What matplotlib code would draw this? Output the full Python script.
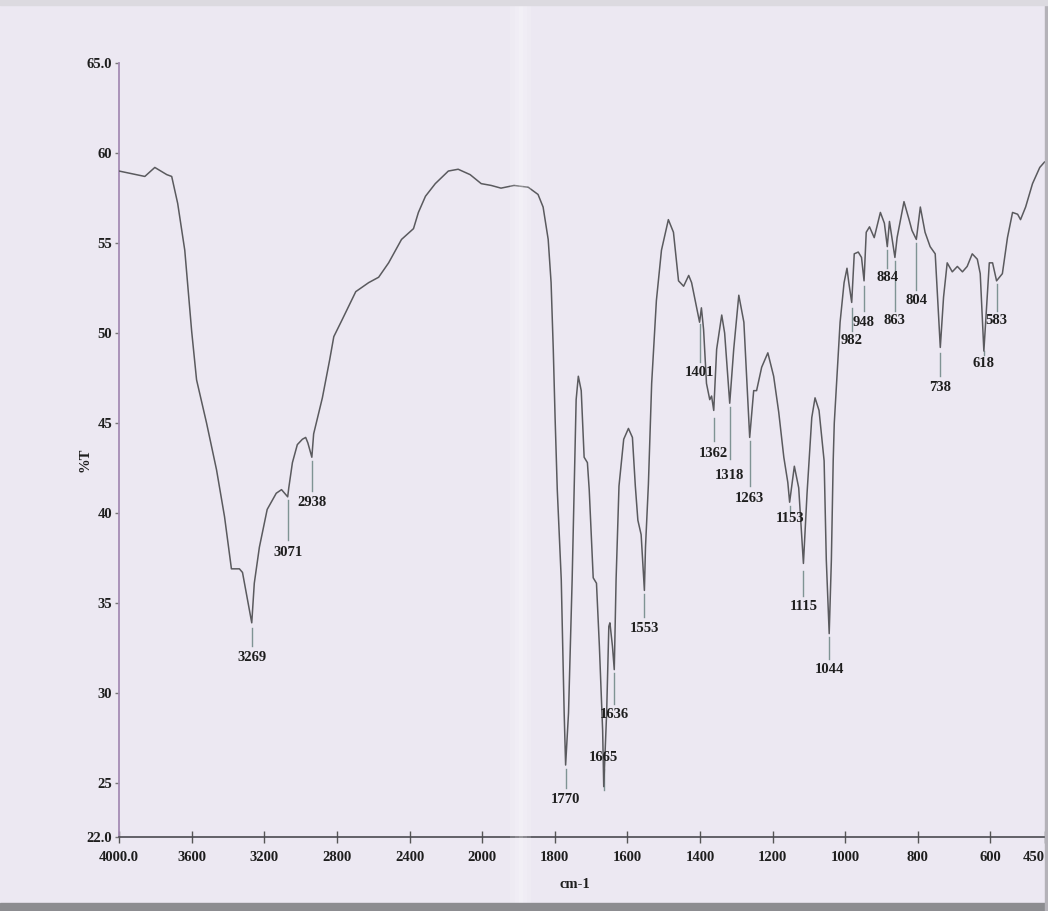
import numpy as np
import matplotlib.pyplot as plt
from matplotlib.patches import Rectangle

# IR spectrum: wavenumber (cm-1) and transmittance (%T)
wavenumber = [
    4000, 3858, 3803, 3737, 3710, 3677, 3638, 3600, 3573, 3518, 3463, 3419,
    3381, 3337, 3320, 3269, 3255, 3227, 3184, 3134, 3105, 3071, 3065, 3045,
    3018, 2990, 2972, 2960, 2938, 2928, 2880, 2840, 2817, 2773, 2696, 2625,
    2570, 2515, 2444, 2378, 2351, 2312, 2258, 2186, 2132, 2066, 2005,
    1975, 1948, 1912, 1873, 1846, 1832, 1818, 1810, 1804, 1799, 1793, 1782,
    1774, 1770, 1762, 1752, 1746, 1741, 1735, 1727, 1719, 1710, 1705, 1694,
    1685, 1677, 1668, 1665, 1657, 1651, 1648, 1641, 1636, 1631, 1623, 1610,
    1597, 1586, 1578, 1571, 1562, 1553, 1550, 1542, 1533, 1520, 1506, 1487,
    1473, 1459, 1445, 1431, 1423, 1413, 1401, 1396, 1390, 1382, 1373, 1368,
    1362, 1354, 1340, 1332, 1318, 1307, 1293, 1279, 1263, 1252, 1244, 1230,
    1213, 1197, 1183, 1169, 1158, 1153, 1140, 1128, 1115, 1105, 1092, 1083,
    1072, 1058, 1052, 1044, 1038, 1033, 1030, 1014, 1003, 995, 990, 982,
    975, 964, 955, 948, 942, 933, 920, 903, 892, 884, 878, 863, 857, 838,
    824, 816, 804, 793, 780, 766, 752, 738, 729, 719, 705, 691, 677, 664,
    650, 636, 628, 618, 603, 594, 583, 567, 553, 539, 525, 517, 503, 484,
    464, 451,
]
transmittance = [
    59.0, 58.7, 59.2, 58.8, 58.7, 57.2, 54.6, 50.1, 47.4, 45.0, 42.4, 39.8,
    36.9, 36.9, 36.7, 33.9, 36.1, 38.1, 40.2, 41.1, 41.3, 40.9, 41.4, 42.8,
    43.8, 44.1, 44.2, 43.9, 43.1, 44.4, 46.4, 48.5, 49.8, 50.7, 52.3, 52.8,
    53.1, 53.9, 55.2, 55.8, 56.7, 57.6, 58.3, 59.0, 59.1, 58.8, 58.3,
    58.2, 58.05, 58.2, 58.1, 57.7, 57.0, 55.2, 52.8, 49.1, 45.3, 41.3, 36.3,
    28.9, 26.0, 28.9, 36.3, 41.8, 46.3, 47.6, 46.8, 43.1, 42.8, 41.3, 36.4,
    36.1, 32.6, 27.9, 24.8, 28.9, 33.7, 33.9, 32.6, 31.3, 36.3, 41.5, 44.1,
    44.7, 44.2, 41.5, 39.6, 38.8, 35.7, 38.1, 41.6, 47.2, 51.8, 54.6, 56.3,
    55.6, 52.9, 52.6, 53.2, 52.8, 51.8, 50.6, 51.4, 50.2, 47.2, 46.3, 46.5,
    45.7, 49.1, 51.0, 50.0, 46.1, 49.1, 52.1, 50.6, 44.2, 46.8, 46.8, 48.1,
    48.9, 47.6, 45.6, 43.1, 41.7, 40.6, 42.6, 41.4, 37.2, 41.1, 45.3, 46.4,
    45.7, 42.9, 37.4, 33.3, 37.4, 42.9, 45.0, 50.6, 52.8, 53.6, 52.8, 51.7,
    54.4, 54.5, 54.2, 52.9, 55.6, 55.9, 55.3, 56.7, 56.1, 54.8, 56.2, 54.2,
    55.3, 57.3, 56.3, 55.7, 55.2, 57.0, 55.6, 54.8, 54.4, 49.2, 52.0, 53.9,
    53.4, 53.7, 53.4, 53.7, 54.4, 54.1, 53.3, 49.0, 53.9, 53.9, 52.9, 53.3,
    55.3, 56.7, 56.6, 56.3, 57.0, 58.3, 59.2, 59.5,
]

# peak annotations: label, text centre %T, marker line top and bottom %T
peak_labels = [3269, 3071, 2938, 1770, 1665, 1636, 1553, 1401, 1362, 1318,
               1263, 1153, 1115, 1044, 982, 948, 884, 863, 804, 738, 618, 583]
label_t = [32.0, 37.8, 40.6, 24.1, 26.4, 28.8, 33.6, 47.8, 43.3, 42.1,
           40.8, 39.7, 34.8, 31.3, 49.6, 50.6, 53.1, 50.7, 51.8, 47.0, 48.3, 50.7]
mark_hi = [33.6, 40.7, 42.9, 25.8, 25.8, 31.1, 35.5, 50.5, 45.3, 45.9,
           44.0, 40.4, 36.8, 33.1, 51.4, 52.6, 54.6, 54.0, 55.0, 48.9, 49.0, 52.7]
mark_lo = [32.6, 38.5, 41.2, 24.7, 24.6, 29.4, 34.2, 48.4, 44.0, 43.0,
           41.5, 40.1, 35.4, 31.9, 50.1, 51.2, 53.6, 51.2, 52.4, 47.6, 48.8, 51.2]

xticks = [4000, 3600, 3200, 2800, 2400, 2000, 1800, 1600, 1400, 1200, 1000, 800, 600, 450]
xticklabels = ['4000.0', '3600', '3200', '2800', '2400', '2000', '1800', '1600',
               '1400', '1200', '1000', '800', '600', '450']
yticks = [22, 25, 30, 35, 40, 45, 50, 55, 60, 65]
yticklabels = ['22.0', '25', '30', '35', '40', '45', '50', '55', '60', '65.0']

paper = '#ece8f2'
ink = '#5a5a5e'
serif = ['Liberation Serif', 'DejaVu Serif']


# the instrument doubles the scale below 2000 cm-1
def fwd(x):
    x = np.asarray(x, dtype=float)
    return np.where(x > 2000, 2000 + (x - 2000) / 2, x)


def inv(x):
    x = np.asarray(x, dtype=float)
    return np.where(x > 2000, 2000 + (x - 2000) * 2, x)


fig = plt.figure(figsize=(10.48, 9.11), dpi=100, facecolor=paper)
ax = fig.add_axes([0.1136, 0.0812, 0.8834, 0.8496])
ax.set_facecolor('none')

# paper fold and scanner frame
for dx, a in [(0.0, 0.15), (0.004, 0.25), (0.008, 0.35), (0.012, 0.25), (0.016, 0.15)]:
    fig.patches.append(Rectangle((0.487 + dx, 0.0), 0.004, 1.0, transform=fig.transFigure,
                                 color='white', alpha=a, lw=0, zorder=0))
fig.patches.append(Rectangle((0.0, 0.0), 1.0, 0.009, transform=fig.transFigure,
                             color='#8c8c90', zorder=0))
fig.patches.append(Rectangle((0.997, 0.0), 0.003, 1.0, transform=fig.transFigure,
                             color='#b4b2b8', zorder=0))
fig.patches.append(Rectangle((0.0, 0.995), 1.0, 0.005, transform=fig.transFigure,
                             color='#dcdae0', zorder=0))

ax.set_xscale('function', functions=(fwd, inv))
ax.plot(wavenumber, transmittance, color=ink, lw=1.1, zorder=3)

for wn, tt, hi, lo in zip(peak_labels, label_t, mark_hi, mark_lo):
    ax.plot([wn, wn], [lo, hi], color='#7f9494', lw=1.0, zorder=2)
    ax.text(wn, tt, str(wn), ha='center', va='center', fontsize=10.5,
            fontweight='bold', family=serif, color='#1e1e1e', zorder=4)

ax.set_xlim(4000, 450)
ax.set_ylim(22, 65)
ax.set_xticks(xticks)
ax.set_xticklabels(xticklabels)
ax.set_yticks(yticks)
ax.set_yticklabels(yticklabels)
ax.minorticks_off()

for s in ['top', 'right']:
    ax.spines[s].set_visible(False)
ax.spines['left'].set_color('#a58cb4')
ax.spines['left'].set_linewidth(1.3)
ax.spines['bottom'].set_color('#4a4a50')
ax.spines['bottom'].set_linewidth(1.2)

ax.tick_params(axis='x', direction='inout', length=8, width=1, colors='#555555',
               labelcolor='#1e1e1e', labelsize=10.5, pad=6)
ax.tick_params(axis='y', direction='out', length=3, width=1, colors='#777777',
               labelcolor='#1e1e1e', labelsize=10.5, pad=2)
for lab in ax.get_xticklabels() + ax.get_yticklabels():
    lab.set_family(serif)
    lab.set_fontweight('bold')
ax.get_xticklabels()[-1].set_horizontalalignment('right')
ax.get_xticklabels()[-1].set_x(440)

fig.text(0.081, 0.495, '%T', rotation=90, ha='center', va='center',
         fontsize=10.5, fontweight='bold', family=serif, color='#1e1e1e')
fig.text(0.549, 0.029, 'cm-1', ha='center', va='center',
         fontsize=10.5, fontweight='bold', family=serif, color='#1e1e1e')

fig.savefig('out.png', dpi=100, facecolor=paper)
